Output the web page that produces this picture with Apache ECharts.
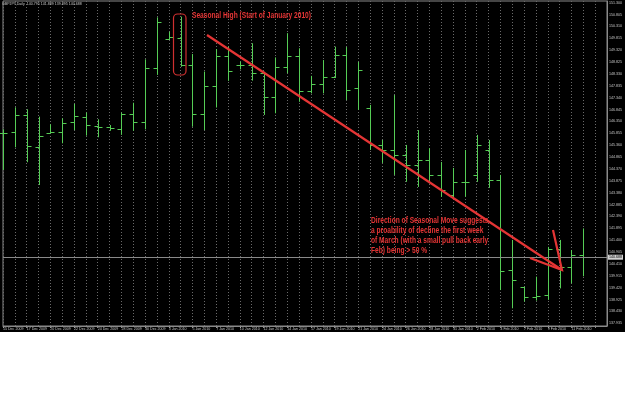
<!DOCTYPE html>
<html>
<head>
<meta charset="utf-8">
<script src="https://cdn.jsdelivr.net/npm/echarts@6/dist/echarts.min.js"></script>
<style>
  html, body { margin: 0; padding: 0; background: #fff; }
  #main { width: 625px; height: 405px; }
</style>
</head>
<body>
<div id="main"></div>
<script>
// GBPJPY daily bars, 15 Dec 2009 - 12 Feb 2010
var barDates = [
  '15 Dec 2009', '16 Dec 2009', '17 Dec 2009', '18 Dec 2009', '20 Dec 2009', '21 Dec 2009',
  '22 Dec 2009', '23 Dec 2009', '24 Dec 2009', '27 Dec 2009', '28 Dec 2009', '29 Dec 2009',
  '30 Dec 2009', '31 Dec 2009', '3 Jan 2010', '4 Jan 2010', '5 Jan 2010', '6 Jan 2010',
  '7 Jan 2010', '8 Jan 2010', '10 Jan 2010', '11 Jan 2010', '12 Jan 2010', '13 Jan 2010',
  '14 Jan 2010', '15 Jan 2010', '17 Jan 2010', '18 Jan 2010', '19 Jan 2010', '20 Jan 2010',
  '21 Jan 2010', '22 Jan 2010', '24 Jan 2010', '25 Jan 2010', '26 Jan 2010', '27 Jan 2010',
  '28 Jan 2010', '29 Jan 2010', '31 Jan 2010', '1 Feb 2010', '2 Feb 2010', '3 Feb 2010',
  '4 Feb 2010', '5 Feb 2010', '7 Feb 2010', '8 Feb 2010', '9 Feb 2010', '10 Feb 2010',
  '11 Feb 2010', '12 Feb 2010'
];
var opens = [145.85,145.90,146.62,145.27,145.86,145.92,146.31,146.52,146.16,146.10,
  146.02,146.65,146.31,148.57,149.77,149.82,148.70,146.65,147.83,149.07,
  148.70,148.72,148.35,147.35,148.64,149.07,147.62,147.90,148.22,149.12,
  147.74,146.91,145.37,145.16,144.95,144.53,144.74,144.12,143.28,143.84,
  144.12,145.16,143.91,140.16,139.44,139.02,139.12,141.03,140.30,140.795];
var highs = [146.02,146.94,146.86,146.55,146.23,146.48,147.08,146.72,146.44,146.20,
  146.72,147.13,148.94,150.69,150.09,150.72,149.16,148.43,149.37,149.47,
  148.84,149.61,148.42,149.02,150.03,149.40,148.25,148.91,149.47,149.45,
  148.83,147.04,145.58,147.45,145.37,145.99,145.24,144.66,144.41,145.16,
  145.79,145.58,144.12,141.41,139.46,139.88,141.12,141.41,140.99,141.889];
var lows = [144.33,145.27,144.65,143.70,145.85,145.44,145.99,145.76,145.69,145.96,
  145.79,145.96,146.02,148.29,149.75,148.63,146.13,145.99,146.93,148.04,
  148.52,148.05,146.62,146.69,148.36,147.17,147.52,147.52,148.16,147.24,
  146.83,145.16,144.62,144.12,143.83,143.62,143.83,143.20,143.20,143.21,
  143.83,143.58,139.32,138.56,138.84,138.88,138.91,139.39,139.60,139.895];
var closes = [145.88,146.62,145.33,145.73,145.90,146.30,146.57,146.19,146.13,146.08,
  146.65,146.31,148.57,150.48,149.86,148.70,146.65,147.83,149.07,148.47,
  148.72,148.35,147.35,148.64,149.07,147.62,147.93,148.22,149.12,147.66,
  148.50,145.37,145.16,144.95,144.53,144.74,144.12,143.49,143.84,143.84,
  145.37,143.91,140.13,139.74,139.02,139.07,141.03,140.30,140.78,140.688];
var priceTicks = [137.935,138.430,138.925,139.420,139.915,140.410,140.905,141.400,
  141.895,142.390,142.885,143.380,143.875,144.370,144.865,145.360,145.855,146.350,
  146.845,147.340,147.835,148.330,148.825,149.320,149.815,150.310,150.805,151.300];
var lastPrice = 140.688;

// two empty slots to the right of the last bar
var categories = barDates.concat(['', ' ']);

var ohlc = [];
for (var i = 0; i < barDates.length; i++) {
  ohlc.push([i, opens[i], highs[i], lows[i], closes[i]]);
}

var myChart = echarts.init(document.getElementById('main'));

var barColor = '#55cc55';
var tinyFont = 'Liberation Sans';
var noteFont = '"Liberation Sans", sans-serif';
var red = '#e53535';

function renderBar(params, api) {
  var x = Math.round(api.coord([api.value(0), 0])[0]) + 0.5;
  var yo = api.coord([api.value(0), api.value(1)])[1];
  var yh = api.coord([api.value(0), api.value(2)])[1];
  var yl = api.coord([api.value(0), api.value(3)])[1];
  var yc = api.coord([api.value(0), api.value(4)])[1];
  var st = { stroke: barColor, lineWidth: 1 };
  return {
    type: 'group',
    children: [
      { type: 'line', shape: { x1: x, y1: yh, x2: x, y2: yl }, style: st },
      { type: 'line', shape: { x1: x - 4, y1: Math.round(yo) + 0.5, x2: x, y2: Math.round(yo) + 0.5 }, style: st },
      { type: 'line', shape: { x1: x, y1: Math.round(yc) + 0.5, x2: x + 4, y2: Math.round(yc) + 0.5 }, style: st }
    ]
  };
}

var option = {
  backgroundColor: '#000',
  animation: false,
  grid: {
    left: 1, right: 14, top: 1, bottom: 79,
    show: true, borderColor: '#8a8a8a', borderWidth: 1
  },
  xAxis: {
    type: 'category',
    boundaryGap: false,
    data: categories,
    axisLine: { lineStyle: { color: '#8a8a8a' } },
    axisTick: { show: true, interval: 1, length: 2, lineStyle: { color: '#8a8a8a' } },
    axisLabel: {
      interval: 1, align: 'left', margin: 1,
      color: '#c8c8c8', fontSize: 3.6, fontFamily: tinyFont
    },
    splitLine: {
      show: true, interval: 0,
      lineStyle: { color: '#6a6a6a', type: [1, 2], width: 1 }
    }
  },
  yAxis: {
    type: 'value',
    position: 'right',
    min: 137.822,
    max: 151.371,
    axisLine: { show: true, lineStyle: { color: '#8a8a8a' } },
    axisTick: { show: true, length: 1, customValues: priceTicks, lineStyle: { color: '#8a8a8a' } },
    axisLabel: {
      customValues: priceTicks,
      formatter: function (v) { return v.toFixed(3); },
      margin: 2, color: '#c8c8c8', fontSize: 3.6, fontFamily: tinyFont
    },
    splitLine: { show: false }
  },
  series: [
    {
      type: 'custom',
      renderItem: renderBar,
      encode: { x: 0, y: [1, 2, 3, 4] },
      data: ohlc,
      z: 3,
      markLine: {
        silent: true,
        symbol: 'none',
        lineStyle: { color: '#8a8a8a', type: 'solid', width: 1 },
        label: {
          position: 'end', distance: 1,
          formatter: lastPrice.toFixed(3),
          color: '#000', backgroundColor: '#d0d0d0',
          fontSize: 3.6, fontFamily: tinyFont, padding: [0.5, 1]
        },
        data: [{ yAxis: lastPrice }]
      }
    }
  ],
  graphic: [
    // white strip under the terminal window
    { type: 'rect', left: 0, top: 332, shape: { width: 625, height: 73 }, style: { fill: '#fff' }, z: 100 },
    {
      type: 'text', left: 2, top: 2, z: 100,
      style: { text: 'GBPJPY,Daily  140.795 141.889 139.895 140.688', fill: '#c8c8c8', fontSize: 3.6, fontFamily: tinyFont }
    },
    // seasonal high box
    {
      type: 'rect', z: 100,
      shape: { x: 173.5, y: 14, width: 12.5, height: 61, r: 4 },
      style: { fill: 'none', stroke: '#cf3030', lineWidth: 1.2 }
    },
    {
      type: 'text', x: 192, y: 16, scaleX: 0.78, z: 100,
      style: {
        x: 0, y: 0, verticalAlign: 'middle',
        text: 'Seasonal High (Start of January 2010)',
        fill: red, fontSize: 8.5, fontWeight: 'bold', fontFamily: noteFont
      }
    },
    // trend arrow
    {
      type: 'polyline', z: 100,
      shape: { points: [[207, 35], [562, 270]] },
      style: { stroke: red, lineWidth: 2.2, fill: 'none' }
    },
    {
      type: 'polyline', z: 100,
      shape: { points: [[530, 258], [562, 270], [553, 230]] },
      style: { stroke: red, lineWidth: 2.2, fill: 'none' }
    },
    {
      type: 'text', x: 371, y: 215.6, scaleX: 0.78, z: 100,
      style: {
        x: 0, y: 0, verticalAlign: 'top',
        text: 'Direction of Seasonal Move suggests\na proability of decline the first week\nof March (with a small pull back early\nFeb) being > 50 %',
        fill: red, fontSize: 8.5, fontWeight: 'bold', lineHeight: 10.1, fontFamily: noteFont
      }
    }
  ]
};

myChart.setOption(option);
</script>
</body>
</html>
